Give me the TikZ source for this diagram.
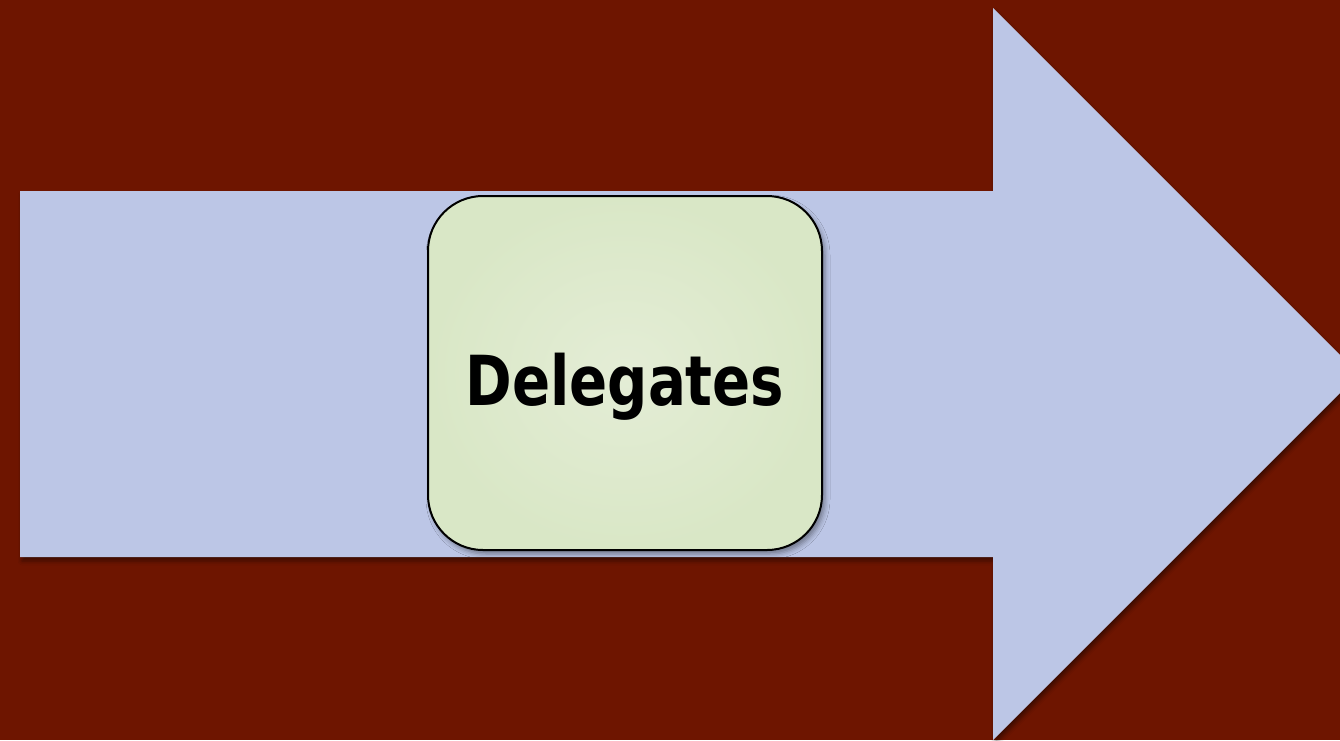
\documentclass[tikz,border=0pt]{standalone}
\usepackage{fontspec}
\usetikzlibrary{shadows.blur}
\newfontfamily\labelfont{DejaVu Sans}
\definecolor{bgred}{HTML}{6E1500}
\definecolor{arrowblue}{HTML}{BCC6E6}
\definecolor{boxinner}{HTML}{E4EDD6}
\definecolor{boxouter}{HTML}{D9E7C6}
\tikzset{
  bigarrow/.style={fill=arrowblue, draw=none,
    blur shadow={shadow xshift=2pt, shadow yshift=-4pt, shadow blur radius=4pt, shadow opacity=45}},
  stagebox/.style={draw=black, line width=2pt, rounded corners=55pt,
    inner color=boxinner, outer color=boxouter,
    minimum width=394pt, minimum height=354pt,
    blur shadow={shadow xshift=3pt, shadow yshift=-4pt, shadow blur radius=5pt, shadow opacity=40}},
  stagelabel/.style={font=\labelfont\bfseries\fontsize{69}{80}\selectfont, xscale=0.815}
}
\begin{document}
\begin{tikzpicture}[x=1pt, y=-1pt]
  \useasboundingbox (0,0) rectangle (1340,740);
  \fill[bgred] (0,0) rectangle (1340,740);
  \clip (0,0) rectangle (1340,740);
  % block arrow pointing right
  \path[bigarrow] (20,191) -- (993,191) -- (993,8) -- (1359,374)
    -- (993,740) -- (993,557) -- (20,557) -- cycle;
  % rounded stage box
  \node[stagebox] (box) at (625,373) {};
  \node[stagelabel, anchor=base] (lbl) at (625,405) {Delegates};
\end{tikzpicture}
\end{document}
